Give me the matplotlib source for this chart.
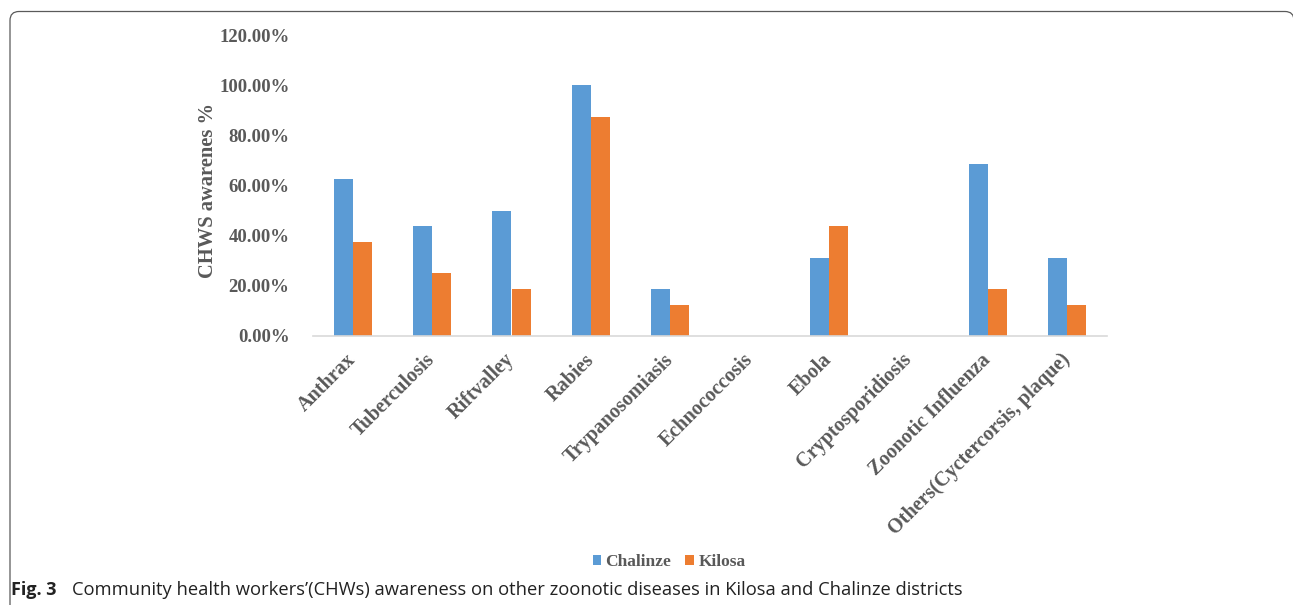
import matplotlib
matplotlib.use("Agg")
import matplotlib.pyplot as plt
from matplotlib.patches import FancyBboxPatch
import numpy as np

# === Données ===
categories = ["Anthrax", "Tuberculosis", "Riftvalley", "Rabies", "Trypanosomiasis",
              "Echnococcosis", "Ebola", "Cryptosporidiosis", "Zoonotic Influenza",
              "Others(Cyctercorsis, plaque)"]
chalinze = [62.5, 43.75, 50.0, 100.0, 18.75, 0.0, 31.25, 0.0, 68.75, 31.25]
kilosa = [37.5, 25.0, 18.75, 87.5, 12.5, 0.0, 43.75, 0.0, 18.75, 12.5]
yticks = [0, 20, 40, 60, 80, 100, 120]

BLUE = "#5B9BD5"
ORANGE = "#ED7D31"
GREY_TXT = "#595959"
SERIF = ["Liberation Serif", "DejaVu Serif"]

W, H, DPI = 1293, 605, 100
fig = plt.figure(figsize=(W / DPI, H / DPI), dpi=DPI)

# axes placé en pixels
x0, x1, y0, y1 = 313, 1107, 336, 35
ax = fig.add_axes([x0 / W, 1 - y0 / H, (x1 - x0) / W, (y0 - y1) / H])

x = np.arange(len(categories))
bw = 0.24
ax.bar(x - bw / 2, chalinze, width=bw, color=BLUE, label="Chalinze")
ax.bar(x + bw / 2, kilosa, width=bw, color=ORANGE, label="Kilosa")

ax.set_xlim(-0.5, len(categories) - 0.5)
ax.set_ylim(0, 120)
ax.set_yticks(yticks)
ax.set_yticklabels([f"{v:.2f}%" for v in yticks], fontfamily=SERIF,
                   fontweight="bold", fontsize=13.5, color=GREY_TXT)
ax.set_xticks(x)
ax.set_xticklabels(categories, rotation=45, ha="right", va="center",
                   rotation_mode="anchor", fontfamily=SERIF,
                   fontweight="bold", fontsize=14.5, color=GREY_TXT)
ax.tick_params(axis="both", length=0)
ax.tick_params(axis="y", pad=17)
ax.tick_params(axis="x", pad=15)

for side in ["top", "right", "left"]:
    ax.spines[side].set_visible(False)
ax.spines["bottom"].set_color("#D9D9D9")
ax.spines["bottom"].set_linewidth(1.2)

fig.text(208 / W, 1 - 190 / H, "CHWS awarenes %", rotation=90, ha="center",
         va="center", fontfamily=SERIF, fontweight="bold", fontsize=14.8,
         color=GREY_TXT)

# === Légende ===
leg = fig.legend(loc="center", bbox_to_anchor=(669 / W, 1 - 562 / H), ncol=2,
                 frameon=False, handlelength=0.5, handleheight=0.5,
                 handletextpad=0.25, columnspacing=0.8,
                 prop={"family": SERIF, "weight": "bold", "size": 12.5})
for t in leg.get_texts():
    t.set_color(GREY_TXT)

# === Cadre arrondi ===
frame = FancyBboxPatch((10, -30), 1284, H - 11.5 + 30,
                       boxstyle="round,pad=0,rounding_size=9",
                       transform=None, fill=False, edgecolor="#5a5a5a",
                       linewidth=0.9)
fig.patches.append(frame)

# === Légende de la figure ===
cap_y = 1 - 590 / H
fig.text(11 / W, cap_y, "Fig. 3", ha="left", va="center",
         fontfamily="Open Sans", fontweight="bold", fontsize=13, color="#222222")
cap = fig.text(72 / W, cap_y,
               "Community health workers\u2019(CHWs) awareness on other zoonotic "
               "diseases in Kilosa and Chalinze districts",
               ha="left", va="center", fontfamily="Open Sans",
               fontsize=12.5, color="#222222")
# ajuster la taille pour finir vers x=968
r = fig.canvas.get_renderer()
wpx = cap.get_window_extent(r).width
cap.set_fontsize(12.5 * (968 - 72) / wpx)

fig.savefig("out.png", dpi=DPI)
